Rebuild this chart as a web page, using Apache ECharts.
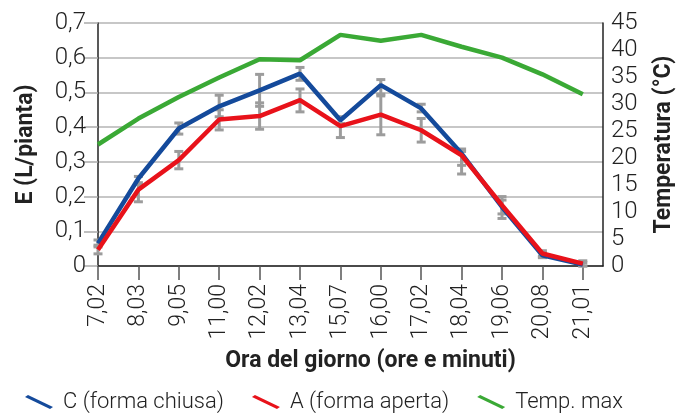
<!DOCTYPE html>
<html>
<head>
<meta charset="utf-8">
<script src="https://cdn.jsdelivr.net/npm/echarts@6/dist/echarts.min.js"></script>
<style>
  html, body { margin: 0; padding: 0; background: #fff; }
  #chart { width: 684px; height: 416px; }
</style>
</head>
<body>
<div id="chart"></div>
<script>
  // categorie (ora del giorno)
  const categories = ["7,02", "8,03", "9,05", "11,00", "12,02", "13,04", "15,07", "16,00", "17,02", "18,04", "19,06", "20,08", "21,01"]
  // E (L/pianta)
  const seriesC = [0.065, 0.252, 0.396, 0.46, 0.506, 0.554, 0.42, 0.521, 0.454, 0.324, 0.17, 0.031, 0.004]
  const seriesA = [0.047, 0.22, 0.305, 0.422, 0.432, 0.478, 0.403, 0.436, 0.391, 0.319, 0.175, 0.036, 0.007]
  // temperatura massima (°C)
  const tempMax = [22.5, 27.3, 31.3, 34.9, 38.3, 38.1, 42.8, 41.7, 42.8, 40.6, 38.6, 35.5, 31.8]
  // barre d'errore [min, max]
  const errC = [[0.055, 0.075], [0.24, 0.258], [0.38, 0.412], [0.43, 0.492], [0.46, 0.552], [0.535, 0.572], [0.41, 0.43], [0.49, 0.537], [0.444, 0.466], [0.29, 0.33], [0.15, 0.19], [0.024, 0.038], [0, 0.01]]
  const errA = [[0.035, 0.06], [0.185, 0.235], [0.28, 0.33], [0.392, 0.45], [0.394, 0.47], [0.444, 0.51], [0.37, 0.41], [0.378, 0.495], [0.357, 0.425], [0.265, 0.337], [0.137, 0.2], [0.028, 0.044], [0, 0.015]]
  const legendNames = ["C (forma chiusa)", "A (forma aperta)", "Temp. max"]

  const FONT = "Roboto"
  const idx = categories.map((c, i) => i)

  function errBar(params, api) {
    const x = api.value(0)
    const lo = api.coord([x, api.value(1)])
    const hi = api.coord([x, api.value(2)])
    const w = 4.5
    const style = { stroke: "#9c9c9c", lineWidth: 3 }
    return {
      type: "group",
      children: [
        { type: "line", shape: { x1: lo[0], y1: lo[1], x2: hi[0], y2: hi[1] }, style },
        { type: "line", shape: { x1: lo[0] - w, y1: lo[1], x2: lo[0] + w, y2: lo[1] }, style },
        { type: "line", shape: { x1: hi[0] - w, y1: hi[1], x2: hi[0] + w, y2: hi[1] }, style },
      ],
    }
  }

  const option = {
    backgroundColor: "#fff",
    animation: false,
    grid: { left: 98, right: 68, top: 23, bottom: 150 },
    legend: {
      data: legendNames,
      left: 20,
      top: 386,
      icon: "path://M0,2 L3,0 L28,12 L25,14 Z",
      itemWidth: 28,
      itemHeight: 14,
      itemGap: 28,
      textStyle: { fontFamily: FONT, fontSize: 22, fontWeight: 300, color: "#222", padding: [0, 0, 0, 5] },
    },
    xAxis: {
      type: "value",
      min: 0,
      max: 12.5,
      name: "Ora del giorno (ore e minuti)",
      nameLocation: "middle",
      nameGap: 84,
      nameTextStyle: { fontFamily: FONT, fontSize: 23, fontWeight: "bold", color: "#222", padding: [0, 0, 0, 40] },
      axisLine: { lineStyle: { color: "#222", width: 1.5 } },
      axisTick: { show: true, customValues: idx, length: 14, lineStyle: { color: "#555", width: 1.5 } },
      axisLabel: {
        customValues: idx,
        rotate: 90,
        margin: 18,
        fontFamily: FONT,
        fontSize: 23,
        fontWeight: 300,
        color: "#222",
        formatter: (v) => categories[v],
      },
      splitLine: { show: false },
    },
    yAxis: [
      {
        type: "value",
        min: 0,
        max: 0.7,
        interval: 0.1,
        name: "E (L/pianta)",
        nameLocation: "middle",
        nameGap: 60,
        nameTextStyle: { fontFamily: FONT, fontSize: 23, fontWeight: "bold", color: "#222" },
        axisLine: { show: true, lineStyle: { color: "#222", width: 1.5 } },
        axisTick: { show: true, length: 14, lineStyle: { color: "#aaa", width: 1.5 } },
        axisLabel: {
          margin: 12,
          fontFamily: FONT,
          fontSize: 24,
          fontWeight: 300,
          color: "#222",
          formatter: (v) => (v === 0 ? "0" : v.toFixed(1).replace(".", ",")),
        },
        splitLine: { show: true, lineStyle: { color: "#b4b4b4", width: 1.5 } },
      },
      {
        type: "value",
        min: 0,
        max: 45,
        interval: 5,
        name: "Temperatura (°C)",
        nameLocation: "middle",
        nameGap: 50,
        nameTextStyle: { fontFamily: FONT, fontSize: 23, fontWeight: "bold", color: "#222" },
        axisLine: { show: true, lineStyle: { color: "#222", width: 1.5 } },
        axisTick: { show: false },
        axisLabel: { margin: 8, fontFamily: FONT, fontSize: 24, fontWeight: 300, color: "#222" },
        splitLine: { show: false },
      },
    ],
    series: [
      {
        name: "errC",
        type: "custom",
        renderItem: errBar,
        z: 1,
        data: errC.map((e, i) => [i, e[0], e[1]]),
      },
      {
        name: "errA",
        type: "custom",
        renderItem: errBar,
        z: 1,
        data: errA.map((e, i) => [i, e[0], e[1]]),
      },
      {
        name: legendNames[2],
        type: "line",
        yAxisIndex: 1,
        showSymbol: false,
        z: 3,
        itemStyle: { color: "#3aa935" },
        lineStyle: { color: "#3aa935", width: 4.5 },
        data: tempMax.map((v, i) => [i, v]),
      },
      {
        name: legendNames[0],
        type: "line",
        showSymbol: false,
        z: 4,
        itemStyle: { color: "#144a9b" },
        lineStyle: { color: "#144a9b", width: 4.5 },
        data: seriesC.map((v, i) => [i, v]),
      },
      {
        name: legendNames[1],
        type: "line",
        showSymbol: false,
        z: 5,
        itemStyle: { color: "#e8121a" },
        lineStyle: { color: "#e8121a", width: 4.5 },
        data: seriesA.map((v, i) => [i, v]),
      },
    ],
  }

  const myChart = echarts.init(document.getElementById("chart"))
  myChart.setOption(option)
</script>
</body>
</html>
